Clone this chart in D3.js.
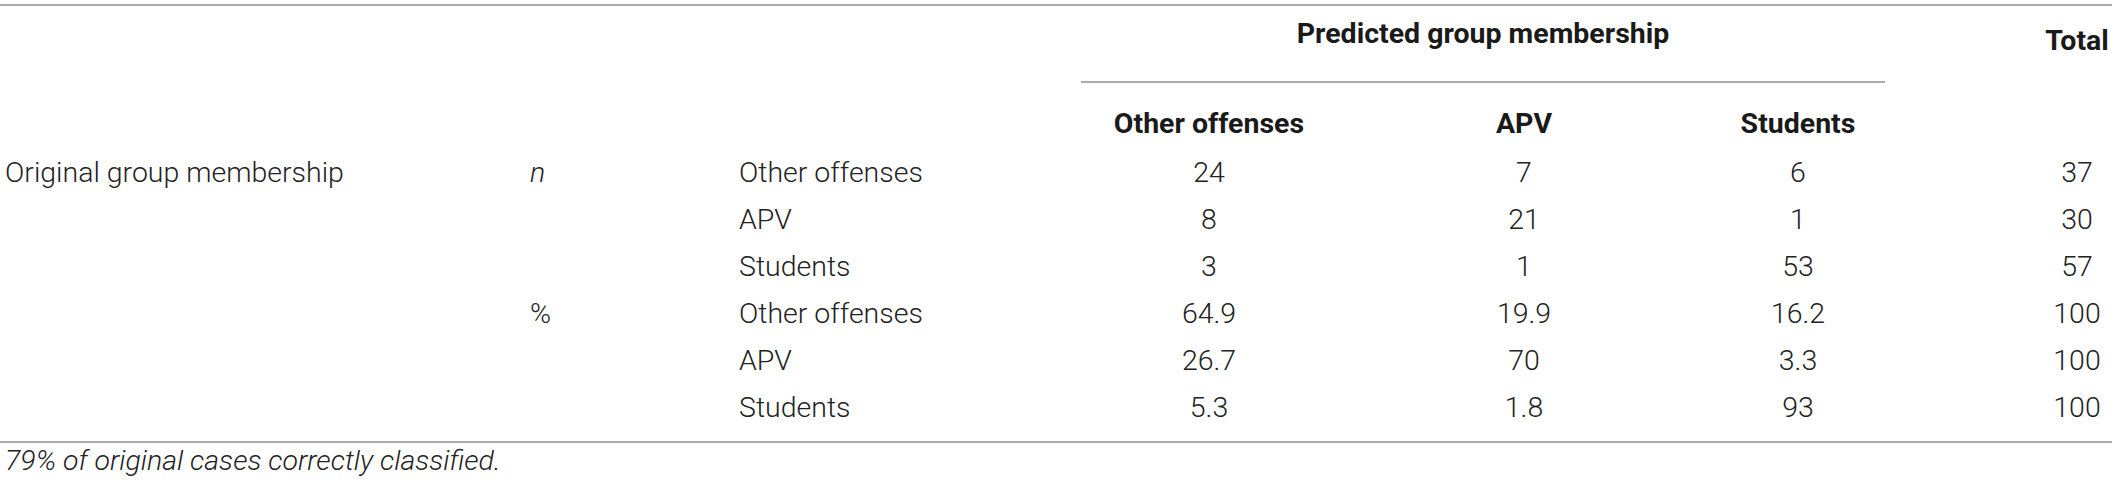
<!DOCTYPE html>
<html>
<head>
<meta charset="utf-8">
<script src="https://cdn.jsdelivr.net/npm/d3@7"></script>
<style>
  html, body { margin: 0; padding: 0; background: #fff; }
  #table-chart { width: 2117px; height: 491px; }
  text { font-family: Roboto, "Liberation Sans", Arial, sans-serif; }
</style>
</head>
<body>
<div id="table-chart"></div>
<script>
// Table contents
const predictedGroups = ["Other offenses", "APV", "Students"];
const originalGroups = ["Other offenses", "APV", "Students"];
const blockLabels = ["n", "%"];
const countValues = [[24, 7, 6], [8, 21, 1], [3, 1, 53]];
const countTotals = [37, 30, 57];
const percentValues = [[64.9, 19.9, 16.2], [26.7, 70, 3.3], [5.3, 1.8, 93]];
const percentTotals = [100, 100, 100];
const rowTitle = "Original group membership";
const spanTitle = "Predicted group membership";
const totalTitle = "Total";
const footnote = "79% of original cases correctly classified.";

// flatten into table rows
const rows = [];
[countValues, percentValues].forEach((block, b) => {
  const totals = b === 0 ? countTotals : percentTotals;
  block.forEach((vals, i) => {
    rows.push({
      block: i === 0 ? blockLabels[b] : "",
      title: b === 0 && i === 0 ? rowTitle : "",
      group: originalGroups[i],
      values: vals,
      total: totals[i]
    });
  });
});

const width = 2117;
const height = 491;
const textColor = "#222";
const headColor = "#1a1a1a";
const ruleColor = "#8f8f8f";

const svg = d3.select("#table-chart")
  .append("svg")
  .attr("width", width)
  .attr("height", height)
  .attr("viewBox", `0 0 ${width} ${height}`);

// Size the light face so the row title spans about 339px like the original
const probe = svg.append("text")
  .style("font-size", "28px")
  .style("font-weight", 300)
  .text(rowTitle);
const fontSize = Math.min(31, Math.max(25, 28 * 339 / probe.node().getComputedTextLength()));
probe.remove();

// Column positions
const colX = d3.scaleOrdinal()
  .domain(predictedGroups)
  .range([1209, 1524, 1798]);
const totalX = 2077;
const spanLeft = 1081;
const spanRight = 1885;

// Row baselines
const rowY = d3.scaleLinear()
  .domain([0, rows.length - 1])
  .range([182, 417]);

// Rules
svg.append("line")
  .attr("x1", 0).attr("x2", 2112)
  .attr("y1", 5).attr("y2", 5)
  .attr("stroke", ruleColor).attr("stroke-width", 1.5);

svg.append("line")
  .attr("x1", spanLeft).attr("x2", spanRight)
  .attr("y1", 82).attr("y2", 82)
  .attr("stroke", ruleColor).attr("stroke-width", 1.5);

svg.append("line")
  .attr("x1", 0).attr("x2", 2112)
  .attr("y1", 442).attr("y2", 442)
  .attr("stroke", ruleColor).attr("stroke-width", 1.5);

// Header
svg.append("text")
  .attr("x", (spanLeft + spanRight) / 2)
  .attr("y", 43)
  .attr("text-anchor", "middle")
  .style("font-size", `${fontSize}px`)
  .style("font-weight", "bold")
  .style("fill", headColor)
  .text(spanTitle);

svg.append("text")
  .attr("x", totalX)
  .attr("y", 50)
  .attr("text-anchor", "middle")
  .style("font-size", `${fontSize}px`)
  .style("font-weight", "bold")
  .style("fill", headColor)
  .text(totalTitle);

svg.selectAll("text.col-head")
  .data(predictedGroups)
  .enter()
  .append("text")
  .attr("class", "col-head")
  .attr("x", d => colX(d))
  .attr("y", 133)
  .attr("text-anchor", "middle")
  .style("font-size", `${fontSize}px`)
  .style("font-weight", "bold")
  .style("fill", headColor)
  .text(d => d);

// Body rows
const row = svg.selectAll("g.row")
  .data(rows)
  .enter()
  .append("g")
  .attr("class", "row")
  .attr("transform", (d, i) => `translate(0,${rowY(i)})`)
  .style("font-size", `${fontSize}px`)
  .style("font-weight", 300)
  .style("fill", textColor);

row.append("text")
  .attr("x", 5)
  .text(d => d.title);

row.append("text")
  .attr("x", 530)
  .style("font-style", d => d.block === "n" ? "italic" : "normal")
  .text(d => d.block);

row.append("text")
  .attr("x", 739)
  .text(d => d.group);

row.selectAll("text.cell")
  .data(d => d.values.map((v, j) => ({ col: predictedGroups[j], v })))
  .enter()
  .append("text")
  .attr("class", "cell")
  .attr("x", d => colX(d.col))
  .attr("text-anchor", "middle")
  .text(d => d.v);

row.append("text")
  .attr("x", totalX)
  .attr("text-anchor", "middle")
  .text(d => d.total);

// Footnote
svg.append("text")
  .attr("x", 5)
  .attr("y", 470)
  .style("font-size", `${fontSize}px`)
  .style("font-weight", 300)
  .style("font-style", "italic")
  .style("fill", textColor)
  .text(footnote);
</script>
</body>
</html>
